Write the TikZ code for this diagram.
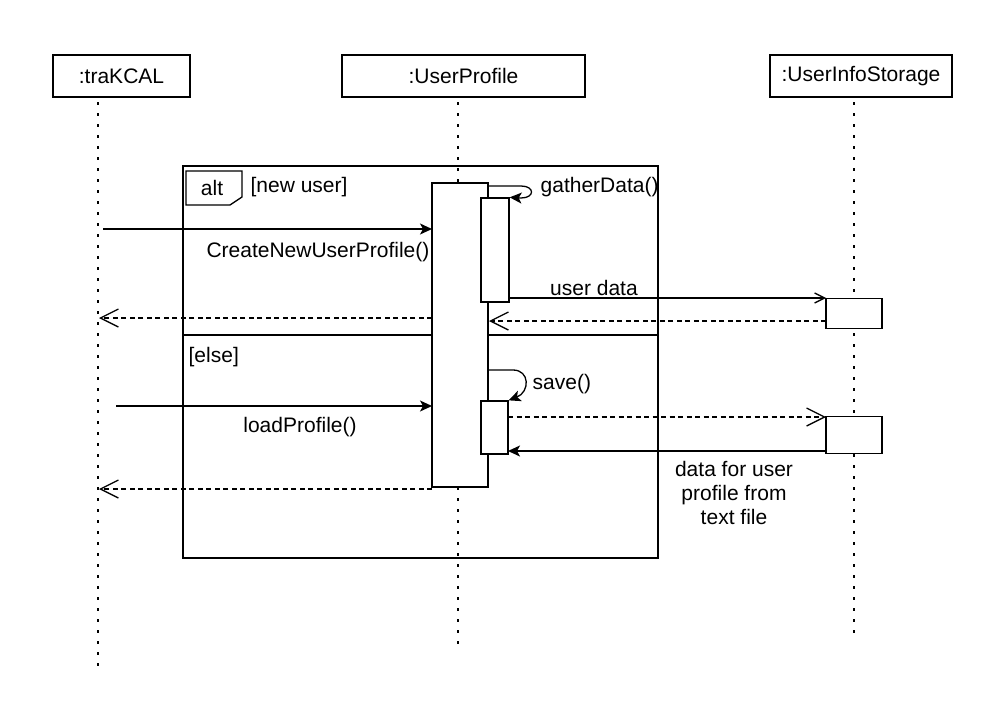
\documentclass[tikz,border=0pt]{standalone}
\usepackage{fontspec}
\setmainfont{Liberation Sans}
\usetikzlibrary{arrows.meta}
\begin{document}
\begin{tikzpicture}[x=1pt,y=-1pt,
  font=\fontsize{21}{24}\selectfont,
  line width=1.3pt,
  head/.style={draw, rectangle, minimum height=42pt, inner sep=0pt},
  actbox/.style={draw, rectangle, fill=white, inner sep=0pt},
  lifeline/.style={line width=2.8pt, dash pattern=on 2.8pt off 8.2pt},
  msg/.style={-{Stealth[length=12pt,width=11pt,inset=3pt]}},
  async/.style={-{Straight Barb[length=10pt,width=10pt]}},
  ret/.style={dash pattern=on 5pt off 3.5pt, -{Straight Barb[length=18pt,width=18pt]}},
  lbl/.style={inner sep=0pt}
]
\useasboundingbox (0,0) rectangle (1000,704);

% heads
\node[head, minimum width=137pt] (h1) at (121.5,76) {:traKCAL};
\node[head, minimum width=243pt] (h2) at (463.5,76) {:UserProfile};
\node[head, minimum width=182pt] (h3) at (861,76) {:UserInfoStorage};

% lifelines
\coordinate (l1s) at (98,102);  \coordinate (l1e) at (98,666);
\coordinate (l2s) at (458,102); \coordinate (l2e) at (458,651);
\coordinate (l3s) at (854,102); \coordinate (l3e) at (854,636);
\draw[lifeline] (l1s) -- (l1e);
\draw[lifeline] (l2s) -- (l2e);
\draw[lifeline] (l3s) -- (l3e);

% alt frame
\coordinate (fa) at (183,166); \coordinate (fb) at (658,558);
\draw (fa) rectangle (fb);
\coordinate (da) at (183,335); \coordinate (db) at (658,335);
\draw (da) -- (db);
\draw (186,171) -- (242,171) -- (242,197) -- (230,205) -- (186,205) -- cycle;
\node[lbl] (alt) at (212,188) {alt};
\node[lbl, anchor=west] (g1) at (250,187) {[new user]};
\node[lbl, anchor=west] (g2) at (188,357) {[else]};

% activations
\node[actbox, minimum width=56pt, minimum height=304pt] (A) at (460,335) {};
\node[actbox, minimum width=28pt, minimum height=104pt] (B) at (495,250) {};
\node[actbox, minimum width=27pt, minimum height=53pt] (C) at (494.5,427.5) {};
\node[actbox, minimum width=56pt, minimum height=30pt] (S1) at (854,313.5) {};
\node[actbox, minimum width=56pt, minimum height=37pt] (S2) at (854,435) {};

% CreateNewUserProfile
\coordinate (m1s) at (103,229); \coordinate (m1e) at (432,229);
\draw[msg] (m1s) -- (m1e);
\node[lbl] (m1l) at (318,252) {CreateNewUserProfile()};

% gatherData self call
\coordinate (g0) at (488,186); \coordinate (g1a) at (521,186); \coordinate (g1b) at (521,198);
\draw[msg] (g0) -- (g1a) .. controls (535,186) and (535,198) .. (g1b) -- (B.north east);
\node[lbl, anchor=west] (gl) at (540,187) {gatherData()};

% user data
\coordinate (u0) at (510,298); \coordinate (u1) at (826,298);
\draw[async] (u0) -- (u1);
\node[lbl] (ul) at (594,288) {user data};

% returns new user
\coordinate (r1s) at (826,321); \coordinate (r1e) at (489,321);
\draw[ret] (r1s) -- (r1e);
\coordinate (r2s) at (432,318); \coordinate (r2e) at (99,318);
\draw[ret] (r2s) -- (r2e);

% save self call
\coordinate (s0) at (488,370); \coordinate (s1) at (513,370);
\draw[msg] (s0) -- (s1) .. controls (530,370) and (530,392) .. (C.north east);
\node[lbl, anchor=west] (sl) at (532,384) {save()};

% loadProfile
\coordinate (lp0) at (116,406); \coordinate (lp1) at (432,406);
\draw[msg] (lp0) -- (lp1);
\node[lbl] (lpl) at (300,427) {loadProfile()};

% storage read
\coordinate (d0) at (508,417); \coordinate (d1) at (826,417);
\draw[ret] (d0) -- (d1);
\coordinate (e0) at (826,451); \coordinate (e1) at (508,451);
\draw[msg] (e0) -- (e1);
\node[lbl, align=center] (el) at (734,493) {data for user\\profile from\\text file};

% final return
\coordinate (r3s) at (432,489); \coordinate (r3e) at (99,489);
\draw[ret] (r3s) -- (r3e);
\end{tikzpicture}
\end{document}
